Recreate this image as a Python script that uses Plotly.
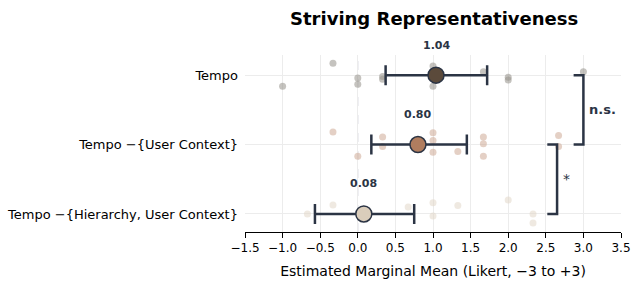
import plotly.graph_objects as go

categories = ["Tempo", "Tempo \u2212{User Context}", "Tempo \u2212{Hierarchy, User Context}"]
means = [1.04, 0.80, 0.08]
ci_low = [0.37, 0.18, -0.57]
ci_high = [1.72, 1.45, 0.75]
mean_colors = ["#5b4a3b", "#b07d5f", "#dacdbb"]
point_colors = ["rgba(150,145,138,0.55)", "rgba(205,170,150,0.55)", "rgba(225,215,200,0.55)"]

pts_x = [
    [-0.33, -1.0, 0.0, 0.0, 0.33, 0.33, 1.0, 1.0, 1.0, 1.67, 2.0, 2.0, 3.0],
    [-0.33, 0.33, 0.33, 0.0, 1.0, 1.0, 1.0, 1.33, 1.67, 1.67, 1.67, 2.67, 2.67],
    [-0.67, -0.33, 0.67, 1.0, 1.0, 1.33, 2.0, 2.33, 2.33],
]
pts_jitter = [
    [0.17, -0.16, -0.04, -0.13, -0.02, -0.06, 0.13, 0.05, -0.16, 0.05, -0.03, -0.07, 0.05],
    [0.18, 0.11, -0.03, -0.17, 0.17, 0.06, -0.11, -0.10, 0.11, 0.01, -0.17, 0.13, -0.03],
    [0.00, 0.13, 0.10, 0.16, -0.03, 0.12, 0.20, 0.00, -0.13],
]

brackets = [(0, 1, 3.0, "n.s."), (1, 2, 2.65, "*")]

ypos = [2 - i for i in range(len(categories))]
dark = "#2b3444"

fig = go.Figure()
for i in range(len(categories)):
    fig.add_trace(go.Scatter(
        x=pts_x[i], y=[ypos[i] + j for j in pts_jitter[i]], mode="markers",
        marker=dict(size=7, color=point_colors[i], line=dict(width=0)),
        showlegend=False, hoverinfo="skip"))
for i in range(len(categories)):
    fig.add_trace(go.Scatter(
        x=[means[i]], y=[ypos[i]], mode="markers",
        error_x=dict(type="data", symmetric=False,
                     array=[ci_high[i] - means[i]], arrayminus=[means[i] - ci_low[i]],
                     color=dark, thickness=2.5, width=10),
        marker=dict(size=16, color=mean_colors[i], line=dict(color=dark, width=1.5)),
        showlegend=False))
    fig.add_annotation(x=means[i], y=ypos[i], yshift=30, text="<b>%.2f</b>" % means[i],
                       showarrow=False, font=dict(size=11, color=dark))

for a, b, bx, label in brackets:
    ya, yb = ypos[a], ypos[b]
    tick = 0.13
    fig.add_shape(type="path",
                  path=f"M {bx - tick} {ya} L {bx} {ya} L {bx} {yb} L {bx - tick} {yb}",
                  line=dict(color=dark, width=2.5))
    fig.add_annotation(x=bx + 0.05, y=(ya + yb) / 2, text=f"<b>{label}</b>" if label != "*" else label,
                       xanchor="left", showarrow=False,
                       font=dict(size=13 if label != "*" else 14, color=dark))

fig.add_shape(type="line", x0=0, x1=0, y0=-0.26, y1=2.29, xref="x", yref="y",
              line=dict(color="#c9c9d6", width=1, dash="dash"), layer="below")

xt = [-1.5, -1.0, -0.5, 0.0, 0.5, 1.0, 1.5, 2.0, 2.5, 3.0, 3.5]
fig.update_layout(
    width=631, height=283,
    margin=dict(l=245, r=10, t=55, b=51, autoexpand=False),
    paper_bgcolor="white", plot_bgcolor="white",
    font=dict(family="DejaVu Sans", size=13, color="black"),
    title=dict(text="<b>Striving Representativeness</b>", x=0.688, xanchor="center",
               y=1 - 19 / 283, yanchor="middle", font=dict(size=18, color="black")),
    xaxis=dict(range=[-1.5, 3.5], tickvals=xt, automargin=False,
               ticktext=[("%.1f" % v).replace("-", "\u2212") for v in xt],
               ticklabeloverflow="allow",
               showgrid=True, gridcolor="#ececec", zeroline=False,
               showline=True, linecolor="black", linewidth=1,
               ticks="outside", ticklen=5, tickcolor="black",
               tickfont=dict(size=12),
               title=dict(text="Estimated Marginal Mean (Likert, \u22123 to +3)",
                          font=dict(size=14), standoff=11)),
    yaxis=dict(range=[-0.26, 2.29], tickvals=ypos, ticktext=categories, automargin=False,
               showgrid=True, gridcolor="#ececec", zeroline=False, showline=False,
               ticks="", ticklabelstandoff=6, tickfont=dict(size=13)),
)
fig.write_html("out.html", config={"displayModeBar": False},
               post_script="document.body.style.margin='0';document.body.style.overflow='hidden';")
